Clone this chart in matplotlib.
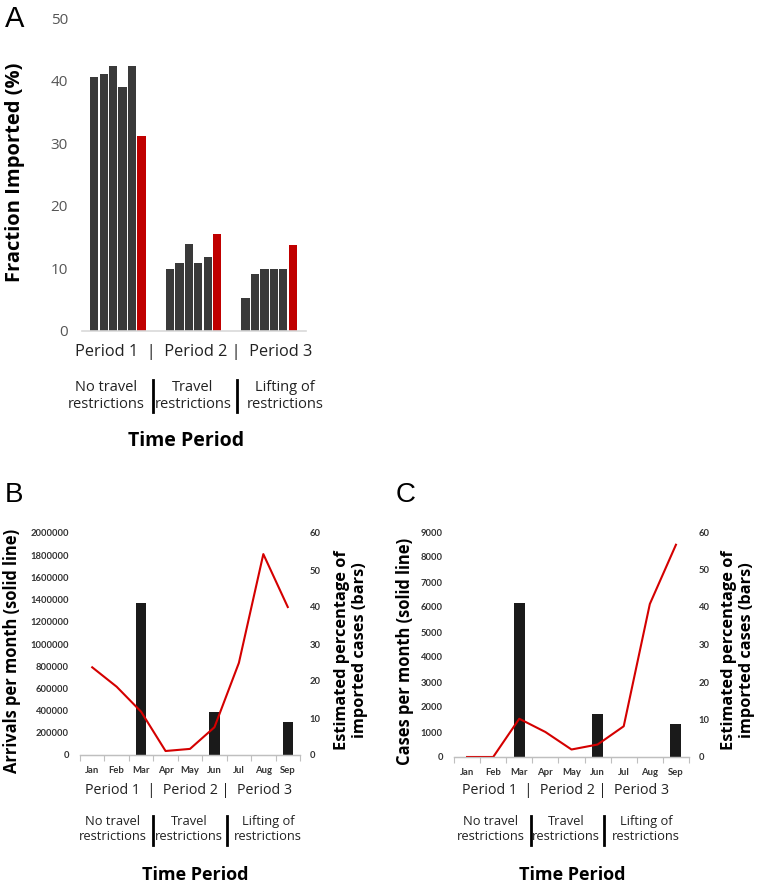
import matplotlib
matplotlib.use("Agg")
import matplotlib.pyplot as plt
import numpy as np

# ---------------- data ----------------
period1 = [40.5, 41.0, 42.3, 39.0, 42.3, 31.2]
period2 = [9.9, 10.8, 13.9, 10.8, 11.9, 15.5]
period3 = [5.3, 9.1, 9.9, 9.9, 9.9, 13.75]
a_yticks = [0, 10, 20, 30, 40, 50]

months = ["Jan", "Feb", "Mar", "Apr", "May", "Jun", "Jul", "Aug", "Sep"]
arrivals = [790000, 615000, 390000, 36000, 55000, 250000, 830000, 1810000, 1333000]
imported_b = [0, 0, 41.0, 0, 0, 11.6, 0, 0, 8.9]
cases = [0, 0, 1530, 1000, 300, 500, 1230, 6120, 8490]
imported_c = [0, 0, 41.0, 0, 0, 11.6, 0, 0, 8.9]

period_text = "Period 1  |  Period 2 |  Period 3"
phase_labels = ["No travel\nrestrictions", "Travel\nrestrictions", "Lifting of\nrestrictions"]

W, H = 760, 883
fig = plt.figure(figsize=(W / 100, H / 100), dpi=100)

def fx(px):
    return px / W

def fy(py):
    return 1 - py / H

def rect(l, t, r, b):
    return [fx(l), fy(b), fx(r) - fx(l), fy(t) - fy(b)]

SANS = ["Open Sans", "DejaVu Sans"]
TICKF = ["Lato", "DejaVu Sans"]
DARK = "#3a3a3a"
RED = "#c00000"

# ---------------- Panel A ----------------
axA = fig.add_axes(rect(82, 18, 306, 331))
groups = [period1, period2, period3]
for g, vals in enumerate(groups):
    xs = [g * 8 + i for i in range(len(vals))]
    cols = [DARK] * (len(vals) - 1) + [RED]
    axA.bar(xs, vals, width=0.88, color=cols)
axA.set_xlim(-1.3, 22.4)
axA.set_ylim(0, 50)
axA.set_yticks(a_yticks)
axA.set_yticklabels([str(v) for v in a_yticks], fontsize=11, color="#555555", family=SANS)
axA.set_xticks([])
for s in ["top", "right", "left"]:
    axA.spines[s].set_visible(False)
axA.spines["bottom"].set_color("#d9d9d9")
axA.spines["bottom"].set_linewidth(1.2)
axA.tick_params(axis="y", length=0, pad=10)

fig.text(fx(15), fy(172), "Fraction Imported (%)", rotation=90, ha="center", va="center",
         fontsize=14.5, fontweight="bold", family=SANS)
fig.text(fx(5), fy(19), "A", ha="left", va="center", fontsize=21, family=["Liberation Sans"])
fig.text(fx(194), fy(352), period_text, ha="center", va="center", fontsize=11.8, family=SANS, color="#222222")
for cx, lab in zip([106, 193, 285], phase_labels):
    fig.text(fx(cx), fy(396), lab, ha="center", va="center", fontsize=10.5, family=SANS,
             color="#222222", linespacing=1.15)
for sx in [153, 237]:
    fig.add_artist(plt.Line2D([fx(sx), fx(sx)], [fy(380), fy(412)], color="black", lw=2))
fig.text(fx(186), fy(441), "Time Period", ha="center", va="center", fontsize=14,
         fontweight="bold", family=SANS)


# ---------------- Panels B & C ----------------
def dual_panel(box, line_vals, bar_vals, lmax, lstep, left_label, right_label,
               letter, letter_xy, lab_left_x, lab_right_x, period_cx, phase_cx, sep_xs, tp_cx):
    ax = fig.add_axes(rect(*box))
    ax2 = ax.twinx()
    x = np.arange(len(months))
    ax2.bar(x, bar_vals, width=0.42, color="#1a1a1a")
    ax.plot(x, line_vals, color="#d40000", lw=1.5)
    ax.set_zorder(ax2.get_zorder() + 1)
    ax.patch.set_visible(False)
    ax.set_xlim(-0.5, len(months) - 0.5)
    ax.set_ylim(0, lmax)
    ax2.set_ylim(0, 60)
    lt = np.arange(0, lmax + 1, lstep)
    ax.set_yticks(lt)
    ax.set_yticklabels([str(int(v)) for v in lt], fontsize=6.8, fontweight="bold",
                       family=TICKF, color="#333333")
    rt = [0, 10, 20, 30, 40, 50, 60]
    ax2.set_yticks(rt)
    ax2.set_yticklabels([str(v) for v in rt], fontsize=6.8, fontweight="bold",
                        family=TICKF, color="#333333")
    ax.set_xticks(x)
    ax.set_xticklabels(months, fontsize=6.8, fontweight="bold", family=TICKF, color="#333333")
    ax.set_xticks(np.arange(-0.5, len(months), 1.0), minor=True)
    ax.tick_params(axis="x", which="major", length=0, pad=8)
    ax.tick_params(axis="x", which="minor", length=4, color="#bfbfbf", width=0.8)
    ax.tick_params(axis="y", length=0, pad=8)
    ax2.tick_params(axis="y", length=0, pad=7)
    for a in (ax, ax2):
        for s in ["top", "right", "left"]:
            a.spines[s].set_visible(False)
        a.spines["bottom"].set_color("#bfbfbf")
        a.spines["bottom"].set_linewidth(0.9)
    fig.text(fx(lab_left_x), fy(651), left_label, rotation=90, ha="center", va="center",
             fontsize=11.9, fontweight="bold", family=SANS)
    fig.text(fx(lab_right_x), fy(650), right_label, rotation=90, ha="center", va="center",
             fontsize=11.8, fontweight="bold", family=SANS, linespacing=1.1)
    fig.text(fx(letter_xy[0]), fy(letter_xy[1]), letter, ha="left", va="center", fontsize=20,
             family=["Liberation Sans"])
    fig.text(fx(period_cx), fy(791), period_text, ha="center", va="center", fontsize=10.3,
             family=SANS, color="#222222")
    for cx, lab in zip(phase_cx, phase_labels):
        fig.text(fx(cx), fy(829), lab, ha="center", va="center", fontsize=9.3, family=SANS,
                 color="#222222", linespacing=1.15)
    for sx in sep_xs:
        fig.add_artist(plt.Line2D([fx(sx), fx(sx)], [fy(816), fy(845)], color="black", lw=2))
    fig.text(fx(tp_cx), fy(875), "Time Period", ha="center", va="center", fontsize=13,
             fontweight="bold", family=SANS)


dual_panel((80, 533, 300, 755), arrivals, imported_b, 2000000, 200000,
           "Arrivals per month (solid line)", "Estimated percentage of\nimported cases (bars)",
           "B", (5, 495), 12, 351, 189, [113, 189, 268], [153, 227], 195)
dual_panel((454, 532, 689, 757), cases, imported_c, 9000, 1000,
           "Cases per month (solid line)", "Estimated percentage of\nimported cases (bars)",
           "C", (396, 495), 405, 738, 566, [491, 566, 646], [531, 604], 572)

fig.savefig("out.png", dpi=100)
